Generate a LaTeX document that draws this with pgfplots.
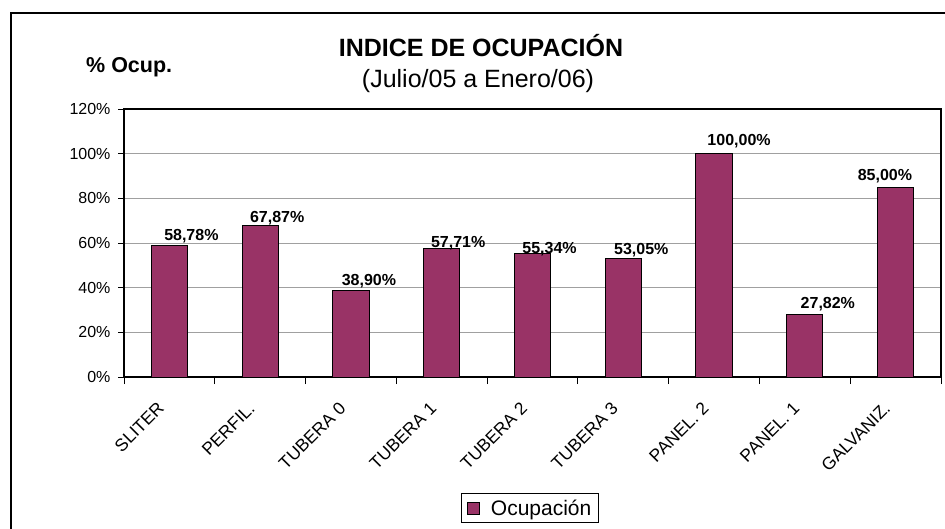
\documentclass[border=0pt]{standalone}
\usepackage{pgfplots}
\pgfplotsset{compat=1.18}
\usepackage{pgfplotstable}
\usepackage{fontspec}
\setmainfont{Liberation Sans}
\definecolor{barc}{HTML}{993366}
\definecolor{gridc}{HTML}{A0A0A0}

% x, value (%), label offsets dx/dy in pt
\pgfplotstableread{
x val dx dy
0 58.78 22 5
1 67.87 17 3
2 38.90 18 5
3 57.71 16.5 1
4 55.34 17 0
5 53.05 18 4
6 100.00 25 8
7 27.82 23 6
8 85.00 -10.7 6.5
}\datatable

\begin{document}
\begin{tikzpicture}
\path[use as bounding box] (0,0) rectangle (945pt,-529pt);
\draw[line width=1.2pt] (11pt,-540pt) -- (11pt,-13pt) -- (950pt,-13pt);
\begin{axis}[
    at={(124pt,-377pt)}, anchor=south west,
    scale only axis,
    width=817pt, height=268pt,
    xmin=-0.5, xmax=8.5,
    ymin=0, ymax=120,
    ytick={0,20,...,120},
    yticklabel={\pgfmathprintnumber{\tick}\%},
    xtick={0,...,8},
    xticklabels={SLITER,PERFIL.,TUBERA 0,TUBERA 1,TUBERA 2,TUBERA 3,PANEL. 2,PANEL. 1,GALVANIZ.},
    minor xtick={-0.5,0.5,...,8.5},
    xtick pos=left, ytick pos=left,
    tick align=outside,
    major tick length=6pt,
    minor tick length=7pt,
    major x tick style={draw=none},
    minor x tick style={black, line width=1pt},
    y tick style={black, line width=1pt},
    ymajorgrids,
    major grid style={gridc, line width=1pt},
    axis line style={black, line width=1.2pt},
    yticklabel style={font=\fontsize{16}{19}\selectfont, /pgf/number format/assume math mode=true, xshift=-4pt},
    xticklabel style={font=\fontsize{17.5}{21}\selectfont, yshift=-20pt, xshift=-6pt, rotate=45, anchor=east},
    legend style={at={(0.4125,-0.433)}, anchor=north west, draw=black, line width=1pt,
        font=\fontsize{21}{24}\selectfont, inner xsep=5pt, inner ysep=4pt},
    legend image code/.code={\draw[#1, line width=0.8pt] (0pt,-6pt) rectangle (12pt,6pt);
        \path[draw=none, fill=none] (0pt,0pt) -- (22pt,0pt);},
]
\addplot[ybar, bar width=0.4, fill=barc, draw=black, line width=1pt,
    point meta=y,
    visualization depends on={\thisrow{dx} \as \dx},
    visualization depends on={\thisrow{dy} \as \dy},
    nodes near coords={\pgfmathprintnumber[fixed, fixed zerofill, precision=2, use comma]{\pgfplotspointmeta}\%},
    nodes near coords style={anchor=base, inner sep=0pt, xshift=\dx pt, yshift=\dy pt,
        font=\bfseries\fontsize{16}{19}\selectfont, black,
        /pgf/number format/assume math mode=true},
    ] table[x=x, y=val] {\datatable};
\addlegendentry{Ocupación}
\end{axis}
\node[anchor=base, inner sep=0pt, font=\bfseries\fontsize{25}{30}\selectfont] at (481pt,-56.7pt) {INDICE DE OCUPACIÓN};
\node[anchor=base, inner sep=0pt, font=\fontsize{25}{30}\selectfont] at (478pt,-88pt) {(Julio/05 a Enero/06)};
\node[anchor=base west, inner sep=0pt, font=\bfseries\fontsize{21.5}{26}\selectfont] at (86pt,-73pt) {\% Ocup.};
\end{tikzpicture}
\end{document}
